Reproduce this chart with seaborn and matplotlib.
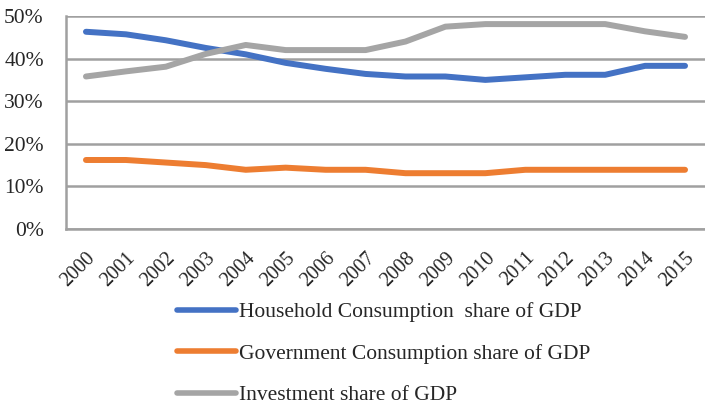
import numpy as np
import pandas as pd
import matplotlib
matplotlib.use("Agg")
import matplotlib.pyplot as plt
import matplotlib.transforms as mtransforms
import seaborn as sns
from matplotlib.ticker import FuncFormatter, MultipleLocator

years = list(range(2000, 2016))
household = [46.3, 45.7, 44.3, 42.5, 41.0, 39.0, 37.6, 36.4, 35.8, 35.8, 35.0, 35.6, 36.2, 36.2, 38.3, 38.3]
government = [16.2, 16.2, 15.6, 15.0, 13.9, 14.4, 13.9, 13.9, 13.1, 13.1, 13.1, 13.9, 13.9, 13.9, 13.9, 13.9]
investment = [35.8, 37.0, 38.1, 41.1, 43.2, 42.0, 42.0, 42.0, 44.0, 47.5, 48.1, 48.1, 48.1, 48.1, 46.4, 45.1]

labels = ["Household Consumption  share of GDP",
          "Government Consumption share of GDP",
          "Investment share of GDP"]
colors = ["#4472C4", "#ED7D31", "#A5A5A5"]

df = pd.DataFrame({"year": years, labels[0]: household,
                   labels[1]: government, labels[2]: investment})
long = df.melt(id_vars="year", var_name="series", value_name="share")

sns.set_style("white")
plt.rcParams["font.family"] = ["Liberation Serif", "DejaVu Serif"]
grid_c = "#A0A0A0"

fig = plt.figure(figsize=(7.05, 4.04), dpi=100)
ax = fig.add_axes([66 / 705, 1 - 229 / 404, 1 - 66 / 705, (229 - 16) / 404])

sns.lineplot(data=long, x="year", y="share", hue="series", hue_order=labels,
             palette=colors, linewidth=4.3, ax=ax, legend=False,
             solid_capstyle="round", zorder=3)

ax.set_xlim(1999.5, 2015.5)
ax.set_ylim(0, 50)
ax.yaxis.set_major_locator(MultipleLocator(10))
ax.yaxis.set_major_formatter(FuncFormatter(lambda v, p: f"{v:.0f}%"))
ax.grid(axis="y", color=grid_c, linewidth=1.8, zorder=0)
ax.set_xticks(years)
ax.set_xticklabels([str(y) for y in years], rotation=45, ha="right",
                   rotation_mode="anchor", fontsize=14.5)
shift = mtransforms.ScaledTranslation(-7 / 100, 0, fig.dpi_scale_trans)
for lbl in ax.get_xticklabels():
    lbl.set_transform(lbl.get_transform() + shift)
ax.set_xticks(np.arange(1999.5, 2016, 1), minor=True)
ax.tick_params(axis="x", which="major", length=0, pad=14)
ax.tick_params(axis="x", which="minor", length=5, width=1.8, color=grid_c)
ax.tick_params(axis="y", length=6, width=1.8, color=grid_c, labelsize=15.5, pad=10)
ax.set_xlabel("")
ax.set_ylabel("")
for s in ["top", "right"]:
    ax.spines[s].set_visible(False)
for s in ["left", "bottom"]:
    ax.spines[s].set_color(grid_c)
    ax.spines[s].set_linewidth(1.8)

handles = [plt.Line2D([], [], color=c, linewidth=4, solid_capstyle="round") for c in colors]
fig.legend(handles, labels, loc="upper left", bbox_to_anchor=(177 / 705, 1 - 302 / 404),
           frameon=False, fontsize=15.5, handlelength=2.75, handletextpad=0.15,
           labelspacing=1.0, borderpad=0, borderaxespad=0)

fig.savefig("out.png", dpi=100)
